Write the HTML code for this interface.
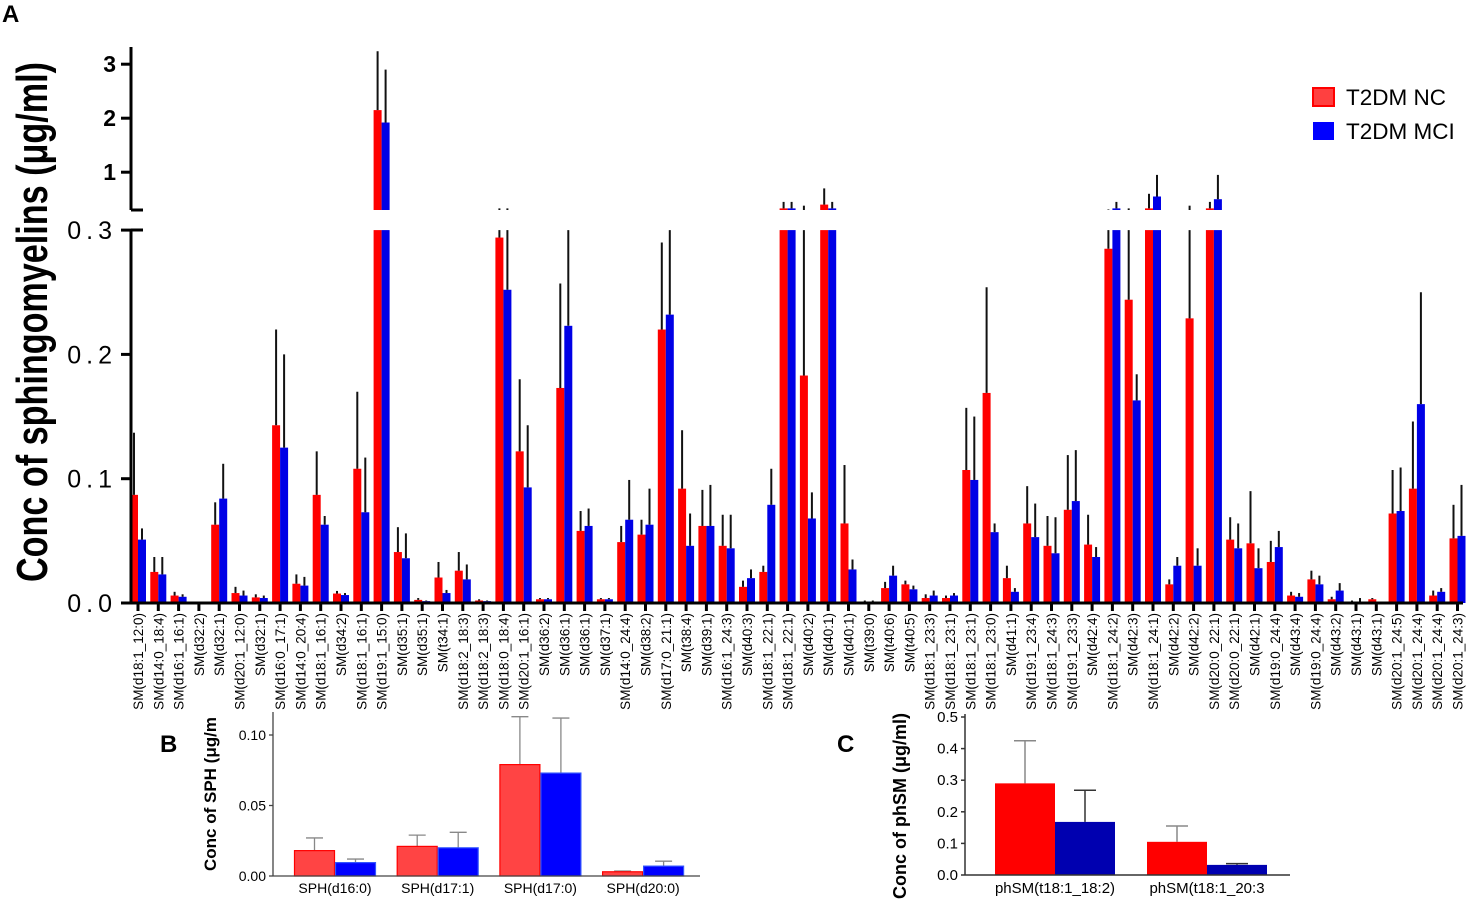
<!DOCTYPE html>
<html><head><meta charset="utf-8"><style>
html,body{margin:0;padding:0;background:#fff;}
svg{display:block;font-family:"Liberation Sans",sans-serif;}
</style></head><body>
<svg id="fig" width="1477" height="902" viewBox="0 0 1477 902" xmlns="http://www.w3.org/2000/svg">
<text x="2" y="22" font-size="24" font-weight="bold">A</text>
<text x="160" y="752" font-size="24" font-weight="bold">B</text>
<text x="837" y="752" font-size="24" font-weight="bold">C</text>
<g id="gA"></g>
<g id="gB"></g>
<g id="gC"></g>
<g>
 <rect x="1313" y="88" width="21" height="18" fill="#ff4040" stroke="#ff0000" stroke-width="2"/>
 <text x="1346" y="105" font-size="22.5">T2DM NC</text>
 <rect x="1313" y="122" width="21" height="18" fill="#0000ff"/>
 <text x="1346" y="139" font-size="22.5">T2DM MCI</text>
</g>
</svg>
<script>
const catsA = ["SM(d18:1_12:0)","SM(d14:0_18:4)","SM(d16:1_16:1)","SM(d32:2)","SM(d32:1)","SM(d20:1_12:0)","SM(d32:1)","SM(d16:0_17:1)","SM(d14:0_20:4)","SM(d18:1_16:1)","SM(d34:2)","SM(d18:1_16:1)","SM(d19:1_15:0)","SM(d35:1)","SM(d35:1)","SM(t34:1)","SM(d18:2_18:3)","SM(d18:2_18:3)","SM(d18:0_18:4)","SM(d20:1_16:1)","SM(d36:2)","SM(d36:1)","SM(d36:1)","SM(d37:1)","SM(d14:0_24:4)","SM(d38:2)","SM(d17:0_21:1)","SM(t38:4)","SM(d39:1)","SM(d16:1_24:3)","SM(d40:3)","SM(d18:1_22:1)","SM(d18:1_22:1)","SM(d40:2)","SM(d40:1)","SM(d40:1)","SM(t39:0)","SM(t40:6)","SM(t40:5)","SM(d18:1_23:3)","SM(d18:1_23:1)","SM(d18:1_23:1)","SM(d18:1_23:0)","SM(d41:1)","SM(d19:1_23:4)","SM(d18:1_24:3)","SM(d19:1_23:3)","SM(d42:4)","SM(d18:1_24:2)","SM(d42:3)","SM(d18:1_24:1)","SM(d42:2)","SM(d42:2)","SM(d20:0_22:1)","SM(d20:0_22:1)","SM(d42:1)","SM(d19:0_24:4)","SM(d43:4)","SM(d19:0_24:4)","SM(d43:2)","SM(d43:1)","SM(d43:1)","SM(d20:1_24:5)","SM(d20:1_24:4)","SM(d20:1_24:4)","SM(d20:1_24:3)"];
const ncA = [0.087,0.025,0.006,0,0.063,0.008,0.0045,0.143,0.0155,0.087,0.0076,0.108,2.15,0.041,0.0025,0.0205,0.026,0.002,0.294,0.122,0.003,0.173,0.058,0.003,0.049,0.055,0.22,0.092,0.062,0.046,0.013,0.025,0.33,0.183,0.40,0.064,0.001,0.012,0.015,0.004,0.004,0.107,0.169,0.02,0.064,0.046,0.075,0.047,0.285,0.244,0.33,0.015,0.229,0.33,0.051,0.048,0.033,0.006,0.019,0.003,0.001,0.003,0.072,0.092,0.006,0.052];
const ncErrA = [0.137,0.037,0.009,0,0.081,0.013,0.007,0.22,0.023,0.122,0.0097,0.17,3.24,0.061,0.004,0.033,0.041,0.003,0.33,0.18,0.004,0.257,0.074,0.004,0.062,0.067,0.29,0.139,0.091,0.071,0.018,0.03,0.45,0.38,0.7,0.111,0.002,0.017,0.018,0.007,0.006,0.157,0.254,0.03,0.094,0.07,0.119,0.071,0.31,0.33,0.6,0.019,0.38,0.45,0.069,0.09,0.05,0.009,0.026,0.005,0.002,0.004,0.107,0.146,0.01,0.079];
const mciA = [0.051,0.023,0.005,0,0.084,0.006,0.004,0.125,0.014,0.063,0.0064,0.073,1.92,0.036,0.0015,0.008,0.019,0.0015,0.252,0.093,0.003,0.223,0.062,0.003,0.067,0.063,0.232,0.046,0.062,0.044,0.02,0.079,0.33,0.068,0.33,0.027,0.001,0.022,0.011,0.006,0.006,0.099,0.057,0.009,0.053,0.04,0.082,0.037,0.33,0.163,0.55,0.03,0.03,0.5,0.044,0.028,0.045,0.005,0.015,0.01,0.001,0,0.074,0.16,0.009,0.054];
const mciErrA = [0.06,0.037,0.007,0,0.112,0.01,0.006,0.2,0.021,0.07,0.008,0.117,2.9,0.056,0.002,0.0105,0.031,0.002,0.33,0.143,0.004,0.3,0.076,0.004,0.099,0.092,0.3,0.072,0.095,0.071,0.027,0.108,0.45,0.089,0.45,0.035,0.002,0.03,0.014,0.01,0.008,0.15,0.064,0.012,0.08,0.069,0.123,0.045,0.45,0.184,0.95,0.037,0.044,0.95,0.064,0.044,0.058,0.008,0.022,0.016,0.004,0,0.109,0.25,0.012,0.095];
const lowTicksA = ["0.0","0.1","0.2","0.3"];
const lowTickValsA = [0,0.1,0.2,0.3];
const upTicksA = ["1","2","3"];
const upTickValsA = [1,2,3];

const catsB = ["SPH(d16:0)","SPH(d17:1)","SPH(d17:0)","SPH(d20:0)"];
const ncB = [0.018,0.021,0.079,0.003];
const ncErrB = [0.027,0.029,0.113,0.0035];
const mciB = [0.0095,0.020,0.073,0.007];
const mciErrB = [0.012,0.031,0.112,0.0105];
const ticksB = ["0.00","0.05","0.10"];
const tickValsB = [0,0.05,0.10];

const catsC = ["phSM(t18:1_18:2)","phSM(t18:1_20:3"];
const ncC = [0.29,0.105];
const ncErrC = [0.425,0.155];
const mciC = [0.168,0.032];
const mciErrC = [0.268,0.036];
const ticksC = ["0.0","0.1","0.2","0.3","0.4","0.5"];
const tickValsC = [0,0.1,0.2,0.3,0.4,0.5];

const NS="http://www.w3.org/2000/svg";
function mk(parent,tag,attrs,text){const e=document.createElementNS(NS,tag);for(const k in attrs)e.setAttribute(k,attrs[k]);if(text!==undefined)e.textContent=text;parent.appendChild(e);return e;}

// ---------- Panel A ----------
const gA=document.getElementById('gA');
const AX=131, Y0=603, YBRK_LO=230, YBRK_HI=210;
function yLow(v){return Y0-v*1243;}
function yUp(v){return YBRK_HI-(v-0.3)*54;}
function xA(i){return 138+i*20.3;}
function segs(v0,v1){
  const out=[];
  const lo0=Math.min(v0,0.3), lo1=Math.min(v1,0.3);
  if(lo1>lo0) out.push([yLow(lo1),yLow(lo0)]);
  if(v1>0.3){const a=Math.max(v0,0.3); out.push([yUp(v1),yUp(a)]);}
  return out;
}
function drawBarA(i,v,err,color,off,name){
  const x=xA(i)+off;
  segs(0,v).forEach(s=>{
    const r=mk(gA,'rect',{x:x,y:s[0],width:8,height:Math.max(0,s[1]-s[0]),fill:color});
    
    
  });
  if(err>v){
    segs(v,err).forEach(s=>{
      const l=mk(gA,'line',{x1:x+4,x2:x+4,y1:s[0],y2:s[1],stroke:'#111','stroke-width':2});
      
      
    });
  }
}
catsA.forEach((c,i)=>{
  drawBarA(i,ncA[i],ncErrA[i],'#ff0000',-8,'bar-nc-'+(i+1));
  drawBarA(i,mciA[i],mciErrA[i],'#0000e6',0,'bar-mci-'+(i+1));
  const t=mk(gA,'line',{x1:xA(i),x2:xA(i),y1:Y0,y2:Y0+8,stroke:'#000','stroke-width':3});
  
  
  const lb=mk(gA,'text',{x:0,y:0,'font-size':13.5,'text-anchor':'end',transform:`translate(${xA(i)+5},613) rotate(-90)`},c);
  
  
});
mk(gA,'line',{x1:AX,x2:AX,y1:YBRK_LO,y2:Y0+1,stroke:'#000','stroke-width':3,});
mk(gA,'line',{x1:AX,x2:AX,y1:47,y2:YBRK_HI,stroke:'#000','stroke-width':3,});
mk(gA,'line',{x1:AX,x2:AX+12,y1:YBRK_HI,y2:YBRK_HI,stroke:'#000','stroke-width':3,});
mk(gA,'line',{x1:AX,x2:AX+12,y1:YBRK_LO,y2:YBRK_LO,stroke:'#000','stroke-width':3,});
mk(gA,'line',{x1:AX-1,x2:1463,y1:Y0,y2:Y0,stroke:'#000','stroke-width':3,});
lowTicksA.forEach((t,k)=>{
  const y=yLow(lowTickValsA[k]);
  const l=mk(gA,'line',{x1:AX-10,x2:AX,y1:y,y2:y,stroke:'#000','stroke-width':3});
  
  
  const tx=mk(gA,'text',{x:AX-14,y:y+9,'font-size':25,'text-anchor':'end','letter-spacing':'5'},t);
  
  
});
upTicksA.forEach((t,k)=>{
  const y=yUp(upTickValsA[k]);
  const l=mk(gA,'line',{x1:AX-10,x2:AX,y1:y,y2:y,stroke:'#000','stroke-width':3});
  
  
  const tx=mk(gA,'text',{x:AX-15,y:y+8,'font-size':23,'font-weight':'bold','text-anchor':'end'},t);
  
  
});
mk(gA,'text',{x:0,y:0,'font-size':44,'font-weight':'bold','text-anchor':'middle',textLength:520,lengthAdjust:'spacingAndGlyphs',transform:'translate(47,322) rotate(-90)',},'Conc of sphingomyelins (μg/ml)');

// ---------- Panel B ----------
const gB=document.getElementById('gB');
const BX=273, BY0=876;
function yB(v){return BY0-v*1410;}
function xB(i){return 335+i*102.7;}
catsB.forEach((c,i)=>{
  [[ncB,ncErrB,'#ff4444','#ff0000',-41,'nc'],[mciB,mciErrB,'#0000ff','#3355ff',0,'mci']].forEach(s=>{
    const v=s[0][i], e=s[1][i], x=xB(i)+s[4];
    const l=mk(gB,'line',{x1:x+20.5,x2:x+20.5,y1:yB(e),y2:yB(v),stroke:'#888','stroke-width':1.3});
    
    
    const cap=mk(gB,'line',{x1:x+12,x2:x+29,y1:yB(e),y2:yB(e),stroke:'#888','stroke-width':1.3});
    
    
    const r=mk(gB,'rect',{x:x+0.5,y:yB(v),width:40,height:BY0-yB(v),fill:s[2],stroke:s[3],'stroke-width':1.2});
    
    
  });
  const tx=mk(gB,'text',{x:xB(i),y:893,'font-size':14,'text-anchor':'middle'},c);
  
  
});
mk(gB,'line',{x1:BX,x2:BX,y1:712,y2:BY0,stroke:'#444','stroke-width':1.3,});
mk(gB,'line',{x1:BX,x2:700,y1:BY0,y2:BY0,stroke:'#444','stroke-width':1.3,});
ticksB.forEach((t,k)=>{
  const y=yB(tickValsB[k]);
  const l=mk(gB,'line',{x1:BX-4,x2:BX,y1:y,y2:y,stroke:'#444','stroke-width':1.3});
  
  
  const tx=mk(gB,'text',{x:BX-7,y:y+5,'font-size':14,'text-anchor':'end'},t);
  
  
});
mk(gB,'text',{x:0,y:0,'font-size':17,'font-weight':'bold','text-anchor':'middle',transform:'translate(216,794) rotate(-90)',},'Conc of SPH (μg/m');

// ---------- Panel C ----------
const gC=document.getElementById('gC');
const CX=965, CY0=875;
function yC(v){return CY0-v*316;}
function xC(i){return 1055+i*152;}
catsC.forEach((c,i)=>{
  [[ncC,ncErrC,'#ff0000','#888',-60,'nc'],[mciC,mciErrC,'#0000b0','#333',0,'mci']].forEach(s=>{
    const v=s[0][i], e=s[1][i], x=xC(i)+s[4];
    const l=mk(gC,'line',{x1:x+30,x2:x+30,y1:yC(e),y2:yC(v),stroke:s[3],'stroke-width':1.5});
    
    
    const cap=mk(gC,'line',{x1:x+19,x2:x+41,y1:yC(e),y2:yC(e),stroke:s[3],'stroke-width':1.5});
    
    
    const r=mk(gC,'rect',{x:x,y:yC(v),width:60,height:CY0-yC(v),fill:s[2]});
    
    
  });
  const tx=mk(gC,'text',{x:xC(i),y:893,'font-size':15,'text-anchor':'middle'},c);
  
  
});
mk(gC,'line',{x1:CX,x2:CX,y1:714,y2:CY0,stroke:'#333','stroke-width':1.5,});
mk(gC,'line',{x1:CX,x2:1290,y1:CY0,y2:CY0,stroke:'#333','stroke-width':1.5,});
ticksC.forEach((t,k)=>{
  const y=yC(tickValsC[k]);
  const l=mk(gC,'line',{x1:CX-4,x2:CX,y1:y,y2:y,stroke:'#333','stroke-width':1.5});
  
  
  const tx=mk(gC,'text',{x:CX-7,y:y+5,'font-size':15,'text-anchor':'end'},t);
  
  
});
mk(gC,'text',{x:0,y:0,'font-size':18,'font-weight':'bold','text-anchor':'middle',transform:'translate(906,806) rotate(-90)',},'Conc of phSM (μg/ml)');
</script>
</body></html>
